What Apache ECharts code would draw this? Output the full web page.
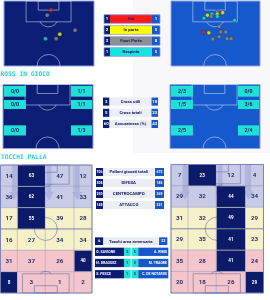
<!DOCTYPE html>
<html>
<head>
<meta charset="utf-8">
<script src="https://cdn.jsdelivr.net/npm/echarts@6/dist/echarts.min.js"></script>
<style>
    html, body { margin: 0; padding: 0; background: #fff; }
    #chart { width: 270px; height: 300px; }
</style>
</head>
<body>
<div id="chart"></div>
<script>
// ---------------- data ----------------

// shots
const shotTypes = ['Gol', 'In porta', 'Fuori Porta', 'Respinto'];
const homeShotCounts = [1, 2, 3, 1];
const awayShotCounts = [1, 5, 8, 5];
// [x % of width, y % of half pitch from goal line, shot type index]
const homeShots = [[52, 14, 0], [48, 22, 2], [62, 51, 1], [79, 45, 2], [46, 58, 3], [58, 58, 2]];
const awayShots = [
    [41, 22, 1], [46, 20, 3], [52, 17, 2], [52, 20.5, 1], [52, 24, 3], [58, 18, 1],
    [37, 26.5, 3], [45, 24, 2], [71.5, 29.5, 3], [54, 39.5, 2], [36.5, 48, 0], [42.5, 49, 1],
    [56, 47.5, 2], [61.5, 47.5, 2], [54, 55, 2], [47, 58.5, 2], [63, 58, 2], [67.5, 58, 2]
];

// crosses
const crossLabels = ['Cross utili', 'Cross totali', 'Accuratezza (%)'];
const homeCrossStats = [3, 5, 60];
const awayCrossStats = [10, 23, 43];
// zones: left side top->bottom, then right side top->bottom
const homeCrossMade = [0, 0, 0, 1, 1, 1];
const homeCrossTotal = [0, 0, 0, 1, 1, 3];
const awayCrossMade = [2, 1, 2, 0, 3, 2];
const awayCrossTotal = [3, 5, 5, 0, 6, 4];

// touches (rows top->bottom, columns left->right)
const homeTouches = [
    [14, 63, 47, 12],
    [36, 62, 41, 33],
    [17, 55, 39, 28],
    [16, 27, 34, 34],
    [31, 37, 26, 40],
    [8, 3, 1, 2]
];
const awayTouches = [
    [7, 23, 12, 4],
    [29, 32, 44, 34],
    [31, 32, 49, 29],
    [29, 35, 41, 23],
    [35, 28, 41, 24],
    [20, 18, 26, 29]
];
const touchLabels = ['Palloni giocati totali', 'DIFESA', 'CENTROCAMPO', 'ATTACCO'];
const homeTouchTotals = [706, 308, 250, 148];
const awayTouchTotals = [675, 185, 269, 221];

const boxTouchLabel = ['Tocchi area avversaria'];
const homeBoxTouches = [6];
const awayBoxTouches = [32];

const homeTopPlayers = ['G. SAVIONE', 'N. DRAGUSZ', 'S. PESCE'];
const homeTopTouches = [2, 1, 1];
const awayTopPlayers = ['A. RIBIS', 'M. TRAORE', 'C. DE NOTARIIS'];
const awayTopTouches = [5, 3, 3];

// ---------------- styles / layout ----------------
const NAVY = '#0b1c72';
const BLUE = '#1658cc';
const CYAN = '#1fe0d6';
const PALE = '#eceef5';
const INK = '#1a2266';
const shotColors = ['#ff1a1a', '#ffff00', '#8e8e8e', '#16e3dc'];
const bandColors = ['#c8cbe6', '#c8cbe6', '#f6f1c8', '#f6f1c8', '#f5c5cc', '#f5c5cc'];
const colEdges = [0, 18.5, 49, 80.5, 100];

const halfPitch = {
    box: [24.5, 0, 74.5, 32], goal: [38, 0, 61, 14],
    spot: [49.5, 24.6], arcR: 11, centre: [49.5, 100], centreR: 12.8
};
const fullPitch = {
    boxTop: [24, 0, 75, 15], goalTop: [37, 0, 62, 5.7], spotTop: [49.5, 10.7],
    boxBot: [24, 85, 75, 100], goalBot: [37, 94.3, 62, 100], spotBot: [49.5, 89.3],
    arcR: 8.7, centre: [49.5, 50], centreR: 12.5
};
const crossZones = [
    [1, 2, 25.5, 19], [1, 24.2, 25.5, 38.3], [1, 63.8, 25.5, 79.7],
    [75.5, 2, 99, 19], [75.5, 24.2, 99, 38.3], [75.5, 63.8, 99, 79.7]
];
const arrowXs = [15, 53, 84];

// ---------------- helpers ----------------
const grids = [], xAxes = [], yAxes = [], series = [];

function addGrid(rect, cats) {
    const i = grids.length;
    grids.push({ left: rect[0], top: rect[1], width: rect[2], height: rect[3] });
    xAxes.push({ gridIndex: i, type: 'value', min: 0, max: 100, show: false });
    if (cats) {
        yAxes.push({ gridIndex: i, type: 'category', data: cats, inverse: true, show: false });
    } else {
        yAxes.push({ gridIndex: i, type: 'value', min: 0, max: 100, inverse: true, show: false });
    }
    return i;
}

function pxRect(api, r) {
    const a = api.coord([r[0], r[1]]), b = api.coord([r[2], r[3]]);
    return { x: Math.min(a[0], b[0]), y: Math.min(a[1], b[1]),
        width: Math.abs(b[0] - a[0]), height: Math.abs(b[1] - a[1]) };
}

function boxArc(api, spot, r, lineY, below, st) {
    const c = api.coord(spot);
    const rp = api.size([r, 0])[0];
    const ly = api.coord([0, lineY])[1];
    const a = Math.asin(Math.min(1, Math.abs(ly - c[1]) / rp));
    const shape = below
        ? { cx: c[0], cy: c[1], r: rp, startAngle: a, endAngle: Math.PI - a, clockwise: true }
        : { cx: c[0], cy: c[1], r: rp, startAngle: Math.PI + a, endAngle: 2 * Math.PI - a, clockwise: true };
    return { type: 'arc', shape: shape, style: st };
}

// dark half pitch with markings
function halfPitchSeries(gi, bg) {
    return {
        type: 'custom', xAxisIndex: gi, yAxisIndex: gi, silent: true, z: 1,
        data: [[0, 0]],
        renderItem: function (params, api) {
            const G = halfPitch;
            const st = { fill: 'none', stroke: 'rgba(200,210,245,0.75)', lineWidth: 0.8 };
            const c = api.coord(G.centre);
            return { type: 'group', children: [
                { type: 'rect', shape: pxRect(api, [0, 0, 100, 100]), style: { fill: bg, stroke: '#8fa2e2', lineWidth: 1 } },
                { type: 'rect', shape: pxRect(api, G.box), style: st },
                { type: 'rect', shape: pxRect(api, G.goal), style: st },
                boxArc(api, G.spot, G.arcR, G.box[3], true, st),
                { type: 'arc', shape: { cx: c[0], cy: c[1], r: api.size([G.centreR, 0])[0],
                    startAngle: Math.PI, endAngle: 2 * Math.PI, clockwise: true }, style: st }
            ] };
        }
    };
}

function shotSeries(gi, shots) {
    return {
        type: 'scatter', xAxisIndex: gi, yAxisIndex: gi, z: 4, silent: true,
        symbolSize: 4,
        data: shots,
        itemStyle: {
            color: p => shotColors[p.value[2]],
            borderColor: '#2a2a2a', borderWidth: 0.5
        }
    };
}

function crossSeries(gi, made, total) {
    return {
        type: 'custom', xAxisIndex: gi, yAxisIndex: gi, silent: true, z: 3,
        data: made.map((m, i) => [i, m, total[i]]),
        renderItem: function (params, api) {
            const r = pxRect(api, crossZones[api.value(0)]);
            return { type: 'group', children: [
                { type: 'rect', shape: r, style: { fill: CYAN } },
                { type: 'text', style: { text: api.value(1) + '/' + api.value(2),
                    x: r.x + r.width / 2, y: r.y + r.height / 2 + 0.3, align: 'center', verticalAlign: 'middle',
                    fill: INK, font: 'bold 5.2px Roboto' } }
            ] };
        }
    };
}

// heat map cells: background layer, pitch lines, then dark cells + numbers
function touchSeries(gi, touches) {
    const cells = [];
    touches.forEach((row, r) => {
        const mx = Math.max(...row);
        const top = row.filter(v => v === mx).length === 1;
        row.forEach((v, c) => cells.push([c, r, v, top && v === mx ? 1 : 0]));
    });
    const rowH = 100 / touches.length;
    const cellRect = (api, c, r) => pxRect(api, [colEdges[c], r * rowH, colEdges[c + 1], (r + 1) * rowH]);
    const base = {
        type: 'custom', xAxisIndex: gi, yAxisIndex: gi, silent: true, data: cells
    };
    const bgLayer = Object.assign({}, base, {
        z: 1,
        renderItem: function (params, api) {
            const r = cellRect(api, api.value(0), api.value(1));
            return { type: 'rect', shape: r,
                style: { fill: bandColors[api.value(1)], stroke: 'rgba(110,118,175,0.45)', lineWidth: 0.6 } };
        }
    });
    const lines = {
        type: 'custom', xAxisIndex: gi, yAxisIndex: gi, silent: true, z: 2, data: [[0, 0]],
        renderItem: function (params, api) {
            const G = fullPitch;
            const st = { fill: 'none', stroke: 'rgba(95,102,160,0.7)', lineWidth: 0.8 };
            const c = api.coord(G.centre);
            const kids = [
                { type: 'rect', shape: pxRect(api, G.boxTop), style: st },
                { type: 'rect', shape: pxRect(api, G.goalTop), style: st },
                { type: 'rect', shape: pxRect(api, G.boxBot), style: st },
                { type: 'rect', shape: pxRect(api, G.goalBot), style: st },
                boxArc(api, G.spotTop, G.arcR, G.boxTop[3], true, st),
                boxArc(api, G.spotBot, G.arcR, G.boxBot[1], false, st),
                { type: 'line', shape: { x1: api.coord([0, 50])[0], y1: c[1], x2: api.coord([100, 50])[0], y2: c[1] }, style: st },
                { type: 'circle', shape: { cx: c[0], cy: c[1], r: api.size([G.centreR, 0])[0] }, style: st },
                { type: 'rect', shape: pxRect(api, [0, 0, 100, 100]), style: { fill: 'none', stroke: '#7d84bd', lineWidth: 1 } }
            ];
            arrowXs.forEach(x => {
                const pts = [[x - 2.6, 0], [x + 2.6, 0], [x + 2.6, 21], [x + 5.5, 21], [x, 27.5], [x - 5.5, 21], [x - 2.6, 21]]
                    .map(p => api.coord(p));
                kids.push({ type: 'polygon', shape: { points: pts }, style: { fill: 'rgba(120,134,200,0.32)' } });
            });
            return { type: 'group', children: kids };
        }
    };
    const top = Object.assign({}, base, {
        z: 3,
        renderItem: function (params, api) {
            const r = cellRect(api, api.value(0), api.value(1));
            const dark = api.value(3) === 1;
            const kids = [];
            if (dark) {
                kids.push({ type: 'rect', shape: { x: r.x + 0.4, y: r.y + 0.4, width: r.width - 0.8, height: r.height - 0.8 },
                    style: { fill: '#0c1a6a' } });
            }
            kids.push({ type: 'text', style: { text: String(api.value(2)),
                x: r.x + r.width / 2, y: r.y + r.height / 2 + 0.3, align: 'center', verticalAlign: 'middle',
                fill: dark ? '#ffffff' : '#252d6c', font: dark ? 'bold 4.6px Roboto' : 'bold 6.2px Roboto' } });
            return { type: 'group', children: kids };
        }
    });
    return [bgLayer, lines, top];
}

// one row per category, columns given in % of the table width
function tableSeries(gi, rowCount, cols, fill, outline) {
    const rows = [];
    for (let i = 0; i < rowCount; i++) rows.push([0, i]);
    return {
        type: 'custom', xAxisIndex: gi, yAxisIndex: gi, silent: true, z: 3,
        data: rows,
        renderItem: function (params, api) {
            const i = api.value(1);
            const yc = api.coord([0, i])[1];
            const h = api.size([0, 1])[1] * fill;
            const kids = [];
            cols.forEach(col => {
                const x0 = api.coord([col.from, i])[0], x1 = api.coord([col.to, i])[0];
                kids.push({ type: 'rect', shape: { x: x0, y: yc - h / 2, width: x1 - x0, height: h },
                    style: { fill: typeof col.bg === 'function' ? col.bg(i) : col.bg } });
                const align = col.align || 'center';
                const tx = align === 'left' ? x0 + 1.3 : align === 'right' ? x1 - 1.3 : (x0 + x1) / 2;
                kids.push({ type: 'text', style: { text: String(col.text(i)), x: tx, y: yc + 0.3,
                    align: align, verticalAlign: 'middle', fill: col.color || INK,
                    font: 'bold ' + (col.size || 4.3) + 'px Roboto' } });
            });
            if (outline) {
                const x0 = api.coord([0, i])[0], x1 = api.coord([100, i])[0];
                kids.push({ type: 'rect', shape: { x: x0, y: yc - h / 2, width: x1 - x0, height: h },
                    style: { fill: 'none', stroke: outline, lineWidth: 0.8 } });
            }
            return { type: 'group', children: kids };
        }
    };
}

// ---------------- build ----------------
const gHomeShot = addGrid([4, 1, 90, 65]);
const gAwayShot = addGrid([171, 1, 89, 65]);
series.push(halfPitchSeries(gHomeShot, '#0b1d74'), shotSeries(gHomeShot, homeShots));
series.push(halfPitchSeries(gAwayShot, '#1659cc'), shotSeries(gAwayShot, awayShots));

const gShotLegend = addGrid([104, 13.5, 56, 44], shotTypes);
series.push(tableSeries(gShotLegend, shotTypes.length, [
    { from: 0, to: 10.7, bg: NAVY, color: '#fff', text: i => homeShotCounts[i] },
    { from: 10.7, to: 85.7, bg: i => shotColors[i], text: i => shotTypes[i] },
    { from: 85.7, to: 100, bg: BLUE, color: '#fff', text: i => awayShotCounts[i] }
], 0.79, '#86a0e6'));

const gHomeCross = addGrid([3, 84.5, 90, 64]);
const gAwayCross = addGrid([170, 84.5, 90, 64]);
series.push(halfPitchSeries(gHomeCross, '#0b1d74'), crossSeries(gHomeCross, homeCrossMade, homeCrossTotal));
series.push(halfPitchSeries(gAwayCross, '#1659cc'), crossSeries(gAwayCross, awayCrossMade, awayCrossTotal));

const gCrossTable = addGrid([103, 96, 55, 33.6], crossLabels);
series.push(tableSeries(gCrossTable, crossLabels.length, [
    { from: 0, to: 11.8, bg: NAVY, color: '#fff', text: i => homeCrossStats[i] },
    { from: 11.8, to: 88.2, bg: PALE, text: i => crossLabels[i] },
    { from: 88.2, to: 100, bg: BLUE, color: '#fff', text: i => awayCrossStats[i] }
], 0.72));

const gHomeTouch = addGrid([0.5, 165, 91.5, 128]);
const gAwayTouch = addGrid([171, 164.5, 92.5, 128.5]);
series.push(...touchSeries(gHomeTouch, homeTouches));
series.push(...touchSeries(gAwayTouch, awayTouches));

const gTouchTable = addGrid([96, 166.5, 68, 44], touchLabels);
series.push(tableSeries(gTouchTable, touchLabels.length, [
    { from: 0, to: 10.3, bg: NAVY, color: '#fff', text: i => homeTouchTotals[i], size: 3.4 },
    { from: 10.3, to: 86, bg: PALE, text: i => touchLabels[i] },
    { from: 86.8, to: 100, bg: BLUE, color: '#fff', text: i => awayTouchTotals[i], size: 3.4 }
], 0.73));

const gBoxTable = addGrid([95, 236, 72.3, 10.4], boxTouchLabel);
series.push(tableSeries(gBoxTable, 1, [
    { from: 0, to: 11.5, bg: NAVY, color: '#fff', text: i => homeBoxTouches[i], size: 3.6 },
    { from: 11.5, to: 87.5, bg: PALE, text: i => boxTouchLabel[i] },
    { from: 88.6, to: 100, bg: BLUE, color: '#fff', text: i => awayBoxTouches[i], size: 3.6 }
], 0.74));

const gPlayers = addGrid([95, 246.2, 73.3, 33.6], homeTopPlayers);
series.push(tableSeries(gPlayers, homeTopPlayers.length, [
    { from: 0, to: 39.6, bg: NAVY, color: '#fff', align: 'left', size: 3.5, text: i => homeTopPlayers[i] },
    { from: 39.6, to: 48.7, bg: CYAN, size: 3.6, text: i => homeTopTouches[i] },
    { from: 49.8, to: 59, bg: CYAN, size: 3.6, text: i => awayTopTouches[i] },
    { from: 59, to: 100, bg: BLUE, color: '#fff', align: 'right', size: 3.5, text: i => awayTopPlayers[i] }
], 0.74));

const option = {
    animation: false,
    backgroundColor: '#ffffff',
    grid: grids,
    xAxis: xAxes,
    yAxis: yAxes,
    series: series,
    graphic: [
        { type: 'rect', z: -10, shape: { x: 133, y: 0, width: 137, height: 153 }, style: { fill: '#f8f8fa' } },
        { type: 'text', left: 0.5, top: 71.2, style: { text: 'ROSS IN GIOCO', fill: '#22d2d8',
            font: 'bold 6.3px "DejaVu Sans Mono"' } },
        { type: 'text', left: 1, top: 154, style: { text: 'TOCCHI PALLA', fill: '#22d2d8',
            font: 'bold 6.3px "DejaVu Sans Mono"' } }
    ]
};

const chart = echarts.init(document.getElementById('chart'));
chart.setOption(option);
</script>
</body>
</html>
